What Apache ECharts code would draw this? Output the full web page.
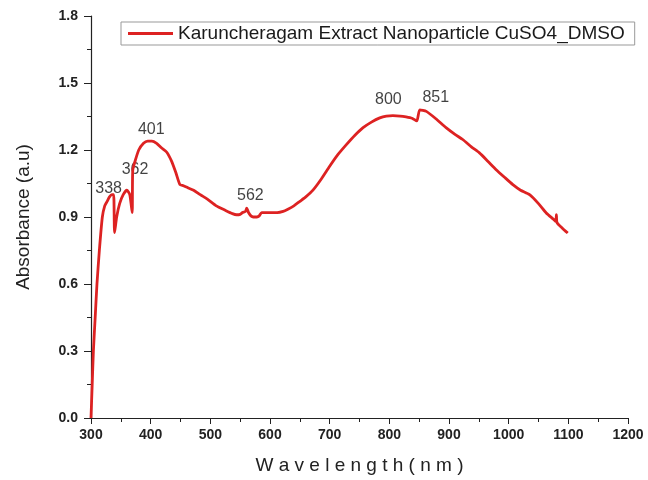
<!DOCTYPE html>
<html>
<head>
<meta charset="utf-8">
<script src="https://cdn.jsdelivr.net/npm/echarts@6/dist/echarts.min.js"></script>
<style>
  html, body { margin: 0; padding: 0; background: #fff; }
  #chart { width: 648px; height: 480px; }
</style>
</head>
<body>
<div id="chart"></div>
<script>
// wavelength (nm) and absorbance (a.u)
const wavelength = [300, 302, 304, 307, 310, 314, 319, 323, 327, 331, 335, 338, 339.5, 343, 348, 354, 360, 365, 369, 370,
  375, 380, 388, 395, 402, 410, 418, 427, 435, 442, 449, 455, 463, 472, 483, 495, 510, 525, 537, 544,
  550, 554, 559, 561, 564, 568, 572, 578, 582, 586, 600, 612, 622, 630, 640, 650, 660, 672, 686, 700,
  714, 728, 742, 756, 770, 784, 795, 806, 818, 828, 838, 846, 851, 862, 878, 895, 910, 923, 937, 951,
  965, 979, 993, 1007, 1020, 1035, 1050, 1063, 1075, 1079, 1080, 1081, 1090, 1099];
const absorbance = [0, 0.15, 0.3, 0.45, 0.6, 0.75, 0.9, 0.95, 0.97, 0.99, 1.0, 1.0, 0.83, 0.9, 0.96, 1.0, 1.02, 1.0, 0.92, 1.11,
  1.16, 1.2, 1.23, 1.24, 1.24, 1.23, 1.21, 1.19, 1.15, 1.1, 1.045, 1.04, 1.03, 1.02, 1.0, 0.98, 0.95, 0.93, 0.915, 0.91,
  0.912, 0.92, 0.925, 0.94, 0.92, 0.905, 0.9, 0.9, 0.905, 0.92, 0.92, 0.92, 0.925, 0.935, 0.95, 0.97, 0.99, 1.02, 1.07, 1.127,
  1.18, 1.224, 1.265, 1.3, 1.325, 1.344, 1.352, 1.354, 1.352, 1.348, 1.342, 1.33, 1.38, 1.373, 1.34, 1.3, 1.27, 1.247, 1.215, 1.187,
  1.15, 1.112, 1.078, 1.045, 1.02, 1.0, 0.96, 0.918, 0.89, 0.88, 0.91, 0.875, 0.85, 0.828];

// annotated peaks
const peakWl = [338, 362, 401, 562, 800, 851];
const peakAbs = [1.0, 1.02, 1.24, 0.94, 1.354, 1.38];
const peakOffsets = [[-5, 7], [7, -8], [0, 2], [3, 1], [-1, -3], [16, 1]];

const seriesName = 'Karuncheragam Extract Nanoparticle CuSO4_DMSO';

const chart = echarts.init(document.getElementById('chart'));

const option = {
  animation: false,
  backgroundColor: '#fff',
  textStyle: { fontFamily: 'Liberation Sans, Arial, sans-serif' },
  grid: { left: 91, right: 20, top: 16, bottom: 62 },
  legend: {
    left: 121,
    top: 22,
    padding: [2, 10, 2, 7],
    borderColor: '#999',
    borderWidth: 1,
    borderRadius: 0,
    icon: 'rect',
    itemWidth: 45,
    itemHeight: 3,
    data: [seriesName],
    textStyle: { fontSize: 19, color: '#1a1a1a' }
  },
  xAxis: {
    type: 'value',
    min: 300,
    max: 1200,
    interval: 100,
    name: 'W a v e l e n g t h ( n m )',
    nameLocation: 'middle',
    nameGap: 38,
    nameTextStyle: { fontSize: 19, color: '#222' },
    axisLine: { show: true, lineStyle: { color: '#222', width: 1.2 } },
    axisTick: { show: true, inside: false, length: 6, lineStyle: { color: '#222' } },
    minorTick: { show: true, splitNumber: 2, length: 4, lineStyle: { color: '#222' } },
    splitLine: { show: false },
    axisLabel: { fontSize: 14, fontWeight: 'bold', color: '#222', margin: 10, formatter: v => String(v) }
  },
  yAxis: {
    type: 'value',
    min: 0,
    max: 1.8,
    interval: 0.3,
    name: 'Absorbance (a.u)',
    nameLocation: 'middle',
    nameGap: 58,
    nameTextStyle: { fontSize: 19, color: '#222' },
    axisLine: { show: true, lineStyle: { color: '#222', width: 1.2 } },
    axisTick: { show: true, inside: false, length: 7, lineStyle: { color: '#222' } },
    minorTick: { show: true, splitNumber: 2, length: 4, lineStyle: { color: '#222' } },
    splitLine: { show: false },
    axisLabel: {
      fontSize: 14, fontWeight: 'bold', color: '#222', margin: 13,
      formatter: v => v.toFixed(1)
    }
  },
  series: [
    {
      name: seriesName,
      type: 'line',
      symbol: 'none',
      smooth: 0.2,
      lineStyle: { color: '#dd2222', width: 2.8 },
      itemStyle: { color: '#dd2222' },
      data: wavelength.map((w, i) => [w, absorbance[i]])
    },
    {
      type: 'scatter',
      symbolSize: 0,
      silent: true,
      data: peakWl.map((w, i) => ({
        value: [w, peakAbs[i]],
        label: {
          show: true,
          position: 'top',
          offset: peakOffsets[i],
          formatter: String(w),
          fontSize: 16,
          color: '#111'
        }
      }))
    }
  ]
};

chart.setOption(option);
</script>
</body>
</html>
